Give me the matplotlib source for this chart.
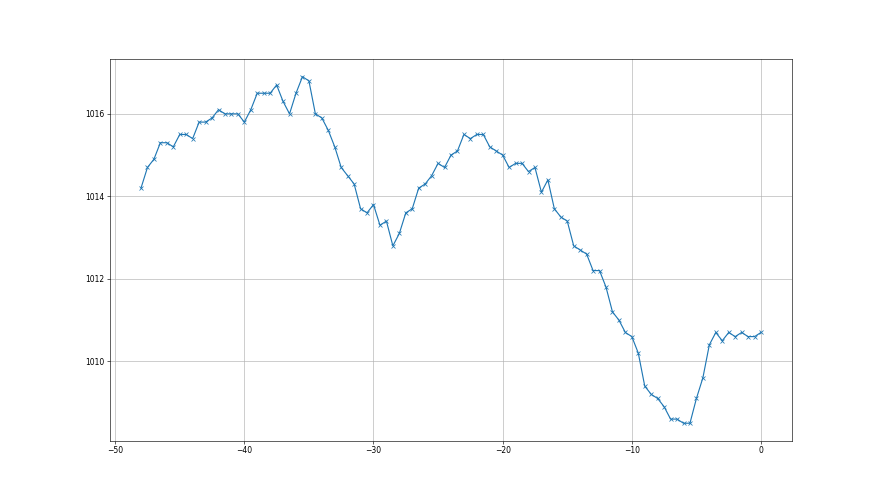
import numpy
import matplotlib
matplotlib.use('Agg')
import matplotlib.pyplot as pyplot

# hours relative to now, half-hour steps
hours = numpy.arange(-48, 0.5, 0.5)

pressure = [
    1014.2, 1014.7, 1014.9, 1015.3, 1015.3, 1015.2, 1015.5, 1015.5, 1015.4, 1015.8,
    1015.8, 1015.9, 1016.1, 1016.0, 1016.0, 1016.0, 1015.8, 1016.1, 1016.5, 1016.5,
    1016.5, 1016.7, 1016.3, 1016.0, 1016.5, 1016.9, 1016.8, 1016.0, 1015.9, 1015.6,
    1015.2,
    1014.7, 1014.5, 1014.3, 1013.7, 1013.6, 1013.8, 1013.3, 1013.4, 1012.8, 1013.1,
    1013.6, 1013.7, 1014.2, 1014.3, 1014.5, 1014.8, 1014.7, 1015.0, 1015.1, 1015.5,
    1015.4, 1015.5, 1015.5, 1015.2, 1015.1, 1015.0, 1014.7, 1014.8, 1014.8, 1014.6,
    1014.7, 1014.1, 1014.4, 1013.7,
    1013.5, 1013.4, 1012.8, 1012.7, 1012.6, 1012.2, 1012.2, 1011.8, 1011.2, 1011.0,
    1010.7, 1010.6, 1010.2, 1009.4, 1009.2, 1009.1, 1008.9, 1008.6, 1008.6, 1008.5,
    1008.5, 1009.1, 1009.6, 1010.4, 1010.7, 1010.5, 1010.7, 1010.6, 1010.7, 1010.6,
    1010.6, 1010.7,
]

fig, ax = pyplot.subplots(figsize=(16, 9), dpi=55)
ax.plot(hours, pressure, marker='x')
ax.grid(True)

pyplot.savefig('out.png', dpi=55)
